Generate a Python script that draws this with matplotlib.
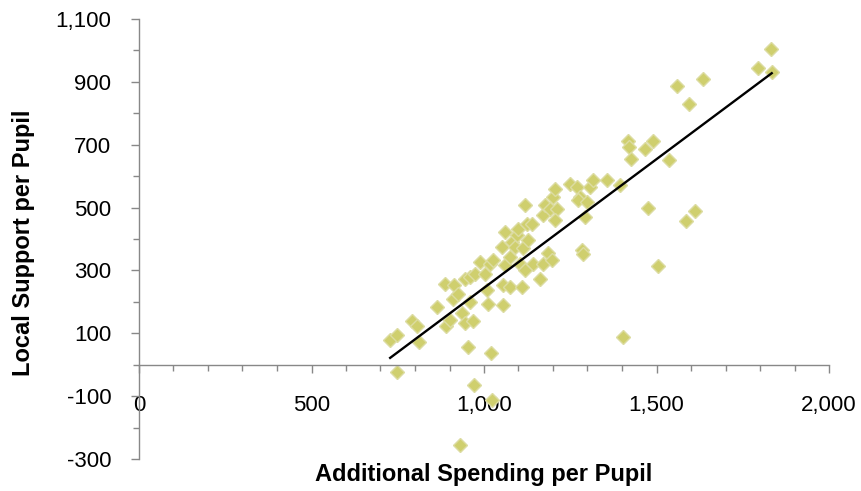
import numpy as np
import matplotlib.pyplot as plt
from matplotlib.ticker import FuncFormatter, MultipleLocator

plt.rcParams['font.family'] = ['Liberation Sans', 'DejaVu Sans']

# additional spending per pupil
spend = [728, 747, 790, 805, 812, 747, 863, 887, 890, 901, 913, 911, 925, 935,
         945, 954, 959, 969, 945, 959, 974, 988, 1003, 1008, 1012, 1019, 1017,
         1027, 1056, 1056, 1061, 1051, 1061, 1075, 1075, 1080, 1090, 1095, 1099,
         1109, 1114, 1104, 1119, 1124, 1128, 1138, 1143, 1119, 1162, 1172, 1186,
         1196, 1172, 1177, 1191, 1201, 1206, 1211, 1206, 1249, 1269, 1278, 1273,
         1298, 1293, 1307, 1317, 1356, 1394, 1283, 1288, 1404, 1831, 1795, 1834,
         1559, 1636, 1595, 1418, 1421, 1467, 1491, 1425, 1537, 1476, 1585, 1612,
         1505, 972, 930, 1022]
# local support per pupil
support = [78, 94, 139, 122, 72, -23, 184, 258, 123, 141, 253, 210, 226, 163,
           133, 57, 200, 138, 274, 279, 290, 327, 290, 237, 192, 38, 322,
           332, 253, 189, 422, 375, 316, 247, 343, 390, 375, 412, 433,
           247, 370, 322, 508, 449, 396, 449, 322, 300, 274, 322, 354,
           332, 475, 508, 497, 533, 560, 497, 460, 576, 565, 533, 523,
           518, 470, 565, 587, 587, 571, 364, 351, 88, 1005, 945, 931,
           886, 908, 830, 711, 692, 687, 711, 656, 652, 500, 457, 489,
           313, -65, -256, -113]

x = np.array(spend)
y = np.array(support)

fig = plt.figure(figsize=(8.62, 4.91), dpi=100)
ax = fig.add_axes([139/862, 1 - 459/491, 690/862, 440/491])

ax.plot(x, y, 'D', ms=7.2, mfc='#cfcf6e', mec='#dcdca2', mew=1.0,
        zorder=2, clip_on=False)

# linear trend line over the data range
slope, icpt = np.polyfit(x, y, 1)
xs = np.array([x.min(), x.max()])
ax.plot(xs, slope * xs + icpt, color='k', lw=1.7, zorder=3)

ax.set_xlim(0, 2000)
ax.set_ylim(-300, 1100)

for s in ['top', 'right']:
    ax.spines[s].set_visible(False)
ax.spines['bottom'].set_position(('data', 0))
ax.spines['left'].set_position(('data', 0))
for s in ['bottom', 'left']:
    ax.spines[s].set_color('#888888')
    ax.spines[s].set_linewidth(1.0)

ax.xaxis.set_major_locator(MultipleLocator(500))
ax.xaxis.set_minor_locator(MultipleLocator(100))
ax.set_yticks(np.arange(-300, 1101, 200))
ax.set_yticks(np.arange(-200, 1001, 200), minor=True)

fmt = FuncFormatter(lambda v, p: f'{v:,.0f}')
ax.xaxis.set_major_formatter(fmt)
ax.yaxis.set_major_formatter(fmt)

ax.tick_params(axis='both', which='both', color='#888888', width=1.0,
               labelsize=16, labelcolor='black')
ax.tick_params(axis='x', which='major', length=6, pad=16)
ax.tick_params(axis='x', which='minor', length=4)
ax.tick_params(axis='y', which='major', length=6, pad=14)
ax.tick_params(axis='y', which='minor', length=4)

ax.set_xlabel('Additional Spending per Pupil', fontsize=17,
              fontweight='bold', va='center')
ax.xaxis.set_label_coords(0.5, -0.036)
ax.set_ylabel('Local Support per Pupil', fontsize=17,
              fontweight='bold', va='center')
ax.yaxis.set_label_coords(-0.167, 0.492)

fig.savefig('out.png', dpi=100)
